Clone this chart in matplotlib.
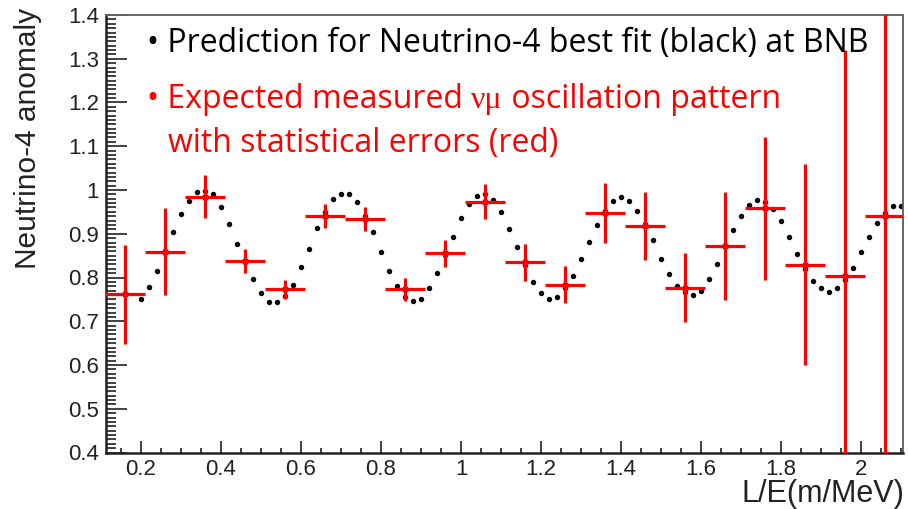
import matplotlib
matplotlib.use("Agg")
import matplotlib.pyplot as plt
import numpy as np
from matplotlib.ticker import MultipleLocator, FuncFormatter

plt.rcParams['font.family'] = ['Liberation Sans', 'DejaVu Sans']

# prediction for the Neutrino-4 best fit, one point every 0.02 m/MeV
pred_x = np.round(np.arange(0.20, 2.101, 0.02), 2)
pred_y = [0.751, 0.779, 0.815, 0.860, 0.903, 0.945, 0.976, 0.996, 0.998, 0.990,
          0.961, 0.922, 0.877, 0.835, 0.796, 0.764, 0.744, 0.744, 0.757, 0.784,
          0.823, 0.866, 0.913, 0.950, 0.979, 0.992, 0.992, 0.972, 0.940, 0.903,
          0.859, 0.816, 0.781, 0.756, 0.747, 0.752, 0.777, 0.811, 0.852, 0.893,
          0.936, 0.968, 0.986, 0.990, 0.977, 0.949, 0.912, 0.869, 0.828, 0.790,
          0.764, 0.752, 0.756, 0.775, 0.803, 0.842, 0.882, 0.921, 0.953, 0.976,
          0.985, 0.976, 0.953, 0.922, 0.886, 0.842, 0.807, 0.781, 0.766, 0.760,
          0.770, 0.796, 0.831, 0.871, 0.909, 0.941, 0.965, 0.977, 0.973, 0.957,
          0.929, 0.893, 0.854, 0.820, 0.792, 0.775, 0.767, 0.775, 0.795, 0.822,
          0.858, 0.893, 0.925, 0.948, 0.963, 0.963]

# expected measured pattern, bins of 0.1 m/MeV
meas_x = [0.16, 0.26, 0.36, 0.46, 0.56, 0.66, 0.76, 0.86, 0.96, 1.06,
          1.16, 1.26, 1.36, 1.46, 1.56, 1.66, 1.76, 1.86, 1.96, 2.06]
meas_y = [0.762, 0.859, 0.985, 0.838, 0.773, 0.941, 0.934, 0.773, 0.855, 0.973,
          0.835, 0.784, 0.947, 0.918, 0.777, 0.872, 0.958, 0.829, 0.803, 0.941]
meas_err = [0.113, 0.100, 0.050, 0.027, 0.021, 0.027, 0.028, 0.026, 0.031, 0.040,
            0.042, 0.043, 0.068, 0.077, 0.078, 0.123, 0.163, 0.230, 0.517, 0.600]
bin_half = 0.05

W, H = 908, 509
fig = plt.figure(figsize=(W / 100, H / 100), dpi=100)
ax = fig.add_axes([106 / W, 1 - 452.5 / H, 797 / W, 437.5 / H])

ax.plot(pred_x, pred_y, 'o', color='black', markersize=3.9,
        markeredgewidth=0, zorder=2)
ax.errorbar(meas_x, meas_y, yerr=meas_err, xerr=bin_half, fmt='o',
            color='red', markersize=4, elinewidth=2.3, capsize=0, zorder=3)

ax.set_xlim(0.1125, 2.105)
ax.set_ylim(0.4, 1.4)

ax.xaxis.set_major_locator(MultipleLocator(0.2))
ax.xaxis.set_minor_locator(MultipleLocator(0.05))
ax.yaxis.set_major_locator(MultipleLocator(0.1))
ax.yaxis.set_minor_locator(MultipleLocator(0.01))
fmt = FuncFormatter(lambda v, p: '%g' % round(v, 2))
ax.xaxis.set_major_formatter(fmt)
ax.yaxis.set_major_formatter(fmt)

ax.tick_params(which='both', direction='in', top=False, right=False,
               width=1.3, color='#333333', labelsize=16, labelcolor='#222222')
ax.tick_params(axis='x', which='major', length=8.5, pad=5)
ax.tick_params(axis='x', which='minor', length=3.6)
ax.tick_params(axis='y', which='major', length=15, pad=5)
ax.tick_params(axis='y', which='minor', length=7.5)

for side in ['left', 'bottom']:
    ax.spines[side].set_linewidth(1.8)
    ax.spines[side].set_color('#222222')
for side in ['top', 'right']:
    ax.spines[side].set_linewidth(1.4)
    ax.spines[side].set_color('#666666')

# axis titles, ROOT style: aligned to the end of each axis
fig.text(28 / W, 1 - 8 / H, 'Neutrino-4 anomaly', rotation=90,
         ha='center', va='top', fontsize=21.5, color='#222222')
fig.text(904 / W, 1 - 494 / H, 'L/E(m/MeV)', ha='right', va='center',
         fontsize=22, color='#222222')

# slide annotations
note_font = ['Open Sans', 'DejaVu Sans']
note_size = 23
fig.text(147 / W, 1 - 52 / H, '\u2022 Prediction for Neutrino-4 best fit (black) at BNB',
         ha='left', va='baseline', fontsize=note_size, color='black', family=note_font)

# second line: the neutrino symbol is set in a serif face, so draw it piece by piece
renderer = fig.canvas.get_renderer()
x_px = 147
pieces = [('\u2022 Expected measured ', note_font),
          ('\u03bd\u03bc', ['Liberation Serif', 'DejaVu Serif']),
          (' oscillation pattern', note_font)]
for s, fam in pieces:
    t = fig.text(x_px / W, 1 - 108 / H, s, ha='left', va='baseline',
                 fontsize=note_size, color='red', family=fam)
    x_px += t.get_window_extent(renderer).width

fig.text(168 / W, 1 - 152 / H, 'with statistical errors (red)',
         ha='left', va='baseline', fontsize=note_size, color='red', family=note_font)

fig.savefig('out.png', dpi=100)
